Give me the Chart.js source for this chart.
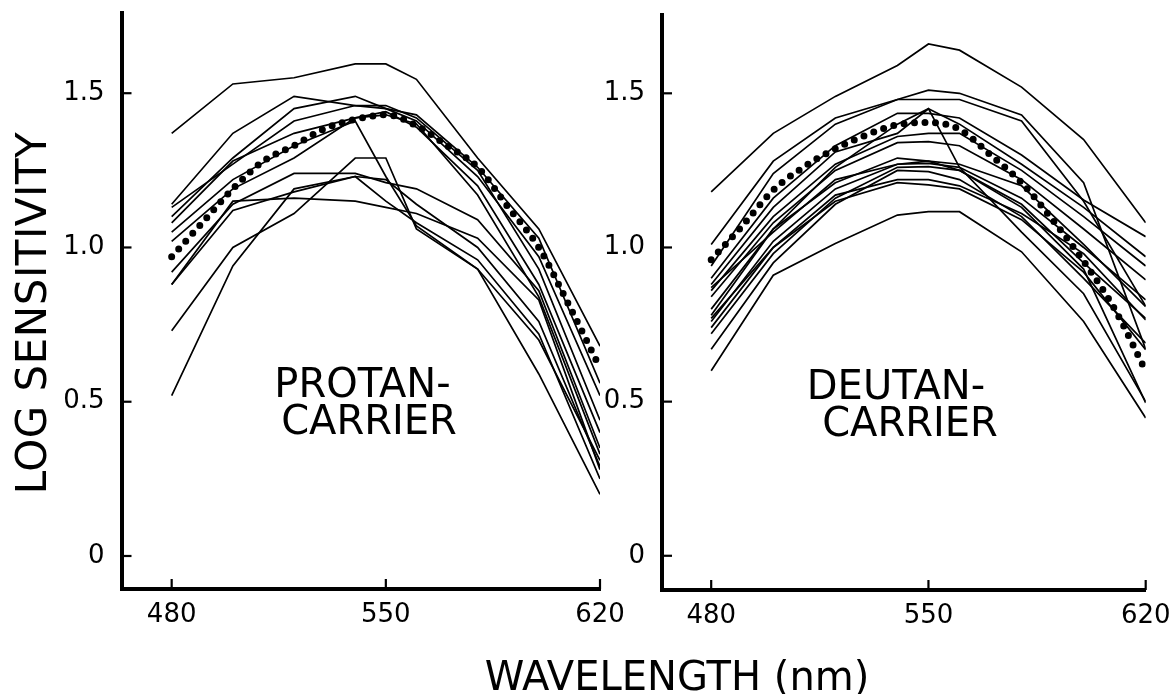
<!DOCTYPE html>
<html><head><meta charset="utf-8">
<script src="https://cdn.jsdelivr.net/npm/chart.js@4"></script>
<style>
html,body{margin:0;padding:0;background:#fff;overflow:hidden}
#wrap{position:relative;width:1174px;height:694px}
canvas{position:absolute;left:0;top:0}
</style></head>
<body><div id="wrap"><canvas id="cL" width="1174" height="694"></canvas><canvas id="cR" width="1174" height="694"></canvas></div>
<script>
// ---- data ----
const wavelengths = [480,500,520,540,550,560,580,600,620];
const dotWavelengths = [480,490,500,510,520,530,540,550,560,570,580,590,600,610,620];
const xTicks = [480,550,620];
const yTicks = [0,0.5,1.0,1.5];

const p1  = [1.37,1.53,1.55,1.595,1.595,1.545,1.29,1.06,0.68];
const p2  = [1.14,1.37,1.49,1.46,1.45,1.43,1.26,1.03,0.56];
const p3  = [1.10,1.29,1.45,1.49,1.45,1.41,1.23,0.97,0.52];
const p4  = [1.13,1.27,1.41,1.46,1.46,1.42,1.25,0.93,0.44];
const p5  = [1.08,1.28,1.37,1.42,1.44,1.39,1.20,0.88,0.40];
const p6  = [1.02,1.19,1.29,1.42,1.43,1.40,1.17,0.84,0.33];
const p7  = [0.92,1.14,1.24,1.24,1.21,1.19,1.09,0.86,0.35];
const p8  = [0.88,1.15,1.16,1.15,1.13,1.11,1.03,0.83,0.28];
const p9  = [0.88,1.12,1.18,1.23,1.15,1.08,0.96,0.72,0.25];
const p10 = [0.73,1.00,1.11,1.29,1.29,1.06,0.93,0.70,0.31];
const p11 = [0.52,0.94,1.19,1.23,1.22,1.14,1.00,0.76,0.29];
const p12 = [1.05,1.22,1.33,1.41,1.23,1.07,0.93,0.59,0.20];
const protanMean = [0.97,1.08,1.19,1.28,1.33,1.385,1.415,1.43,1.395,1.33,1.26,1.13,1.00,0.81,0.61];

const d1  = [1.18,1.37,1.49,1.59,1.66,1.64,1.52,1.35,1.08];
const d2  = [1.01,1.28,1.42,1.48,1.51,1.50,1.43,1.21,0.67];
const d3  = [0.94,1.24,1.40,1.48,1.48,1.48,1.41,1.15,0.81];
const d4  = [0.90,1.16,1.33,1.435,1.435,1.42,1.30,1.154,1.035];
const d5  = [0.88,1.13,1.31,1.37,1.45,1.40,1.27,1.13,0.97];
const d6  = [0.78,1.06,1.26,1.40,1.45,1.26,1.05,0.85,0.50];
const d7  = [0.86,1.10,1.27,1.36,1.37,1.37,1.25,1.10,0.94];
const d8  = [0.84,1.08,1.25,1.34,1.343,1.33,1.22,1.06,0.895];
const d9  = [0.76,1.02,1.19,1.27,1.273,1.26,1.16,1.00,0.83];
const d10 = [0.72,0.98,1.16,1.26,1.262,1.25,1.14,0.95,0.77];
const d11 = [0.67,0.95,1.14,1.25,1.246,1.22,1.10,0.90,0.69];
const d12 = [0.74,1.00,1.15,1.21,1.203,1.19,1.09,0.92,0.668];
const d13 = [0.60,0.91,1.013,1.105,1.116,1.116,0.986,0.76,0.447];
const d14 = [0.80,1.06,1.21,1.29,1.28,1.25,1.13,0.93,0.496];
const d15 = [0.87,1.05,1.22,1.27,1.28,1.27,1.20,1.01,0.808];
const d16 = [0.77,1.00,1.17,1.22,1.22,1.20,1.11,0.98,0.765];
const deutanMean = [0.96,1.07,1.186,1.262,1.32,1.365,1.398,1.405,1.383,1.30,1.21,1.09,0.955,0.80,0.60];

const protanCurves = [p1,p2,p3,p4,p5,p6,p7,p8,p9,p10,p11,p12];
const deutanCurves = [d1,d2,d3,d4,d5,d6,d7,d8,d9,d10,d11,d12,d13,d14,d15,d16];

// ---- helpers ----
const pts = (xs, ys) => xs.map((x,i)=>({x:x, y:ys[i]}));
function buildDatasets(curves, mean){
  const ds = curves.map(c=>({data:pts(wavelengths,c), borderColor:'#000', borderWidth:1.7, pointRadius:0, tension:0, fill:false}));
  ds.push({data:pts(dotWavelengths,mean), borderColor:'#000', borderWidth:7, borderDash:[0,10.5], borderCapStyle:'round', pointRadius:0, cubicInterpolationMode:'monotone', fill:false});
  return ds;
}

const FONT = '"DejaVu Sans", sans-serif';
const inkPlugin = {
  id:'ink',
  afterDraw(chart, args, opts){
    const ctx = chart.ctx, a = chart.chartArea, xs = chart.scales.x, ys = chart.scales.y;
    ctx.save();
    ctx.strokeStyle = '#000'; ctx.lineWidth = 2.2; ctx.lineCap = 'butt';
    xs.ticks.forEach(t=>{const p = xs.getPixelForValue(t.value); ctx.beginPath(); ctx.moveTo(p,a.bottom); ctx.lineTo(p,a.bottom-10); ctx.stroke();});
    ys.ticks.forEach(t=>{const p = ys.getPixelForValue(t.value); ctx.beginPath(); ctx.moveTo(a.left,p); ctx.lineTo(a.left+10,p); ctx.stroke();});
    ctx.fillStyle = '#000'; ctx.textAlign = 'center'; ctx.textBaseline = 'alphabetic';
    (opts.labels||[]).forEach(l=>{
      ctx.save();
      ctx.font = l.size + 'px ' + FONT;
      if (l.spacing) ctx.letterSpacing = l.spacing + 'px';
      ctx.translate(l.x, l.y);
      if (l.rot) ctx.rotate(l.rot);
      ctx.fillText(l.text, 0, 0);
      ctx.restore();
    });
    ctx.restore();
  }
};

function makeChart(id, curves, mean, geo, labels){
  return new Chart(document.getElementById(id), {
    type:'line',
    data:{datasets: buildDatasets(curves, mean)},
    plugins:[inkPlugin],
    options:{
      responsive:false, animation:false, events:[],
      layout:{padding:{left:geo.padL, right:geo.padR, top:geo.padT, bottom:0}},
      plugins:{legend:{display:false}, tooltip:{enabled:false}, ink:{labels:labels}},
      scales:{
        x:{type:'linear', min:geo.xmin, max:620,
           afterBuildTicks:s=>{s.ticks = xTicks.map(v=>({value:v}));},
           afterFit:s=>{s.height = geo.xh; s.paddingLeft = 0; s.paddingRight = 0;},
           grid:{display:false, drawTicks:false},
           border:{display:true, color:'#000', width:4},
           ticks:{color:'#000', font:{family:FONT, size:26}, padding:11, maxRotation:0, callback:v=>String(v)}},
        y:{type:'linear', min:geo.ymin, max:geo.ymax,
           afterBuildTicks:s=>{s.ticks = yTicks.map(v=>({value:v}));},
           afterFit:s=>{s.width = geo.yw; s.paddingTop = 0; s.paddingBottom = 0;},
           grid:{display:false, drawTicks:false},
           border:{display:true, color:'#000', width:4},
           ticks:{color:'#000', font:{family:FONT, size:26}, padding:17, callback:v=>(v===0?'0':Number(v).toFixed(1))}}
      }
    }
  });
}

makeChart('cL', protanCurves, protanMean,
  {padL:0, padR:574, padT:13.3, xh:105, yw:121.5, xmin:463.6, ymin:-0.107, ymax:1.759},
  [
    {text:'LOG SENSITIVITY', x:46, y:313, size:42, spacing:0.5, rot:-Math.PI/2},
    {text:'PROTAN-', x:362.5, y:397, size:40},
    {text:'CARRIER', x:369, y:434, size:40},
    {text:'WAVELENGTH (nm)', x:677, y:690, size:40}
  ]);

makeChart('cR', deutanCurves, deutanMean,
  {padL:600, padR:28.3, padT:15, xh:104, yw:62, xmin:464.15, ymin:-0.111, ymax:1.754},
  [
    {text:'DEUTAN-', x:896, y:399, size:40},
    {text:'CARRIER', x:910, y:436, size:40}
  ]);
</script>
</body></html>
